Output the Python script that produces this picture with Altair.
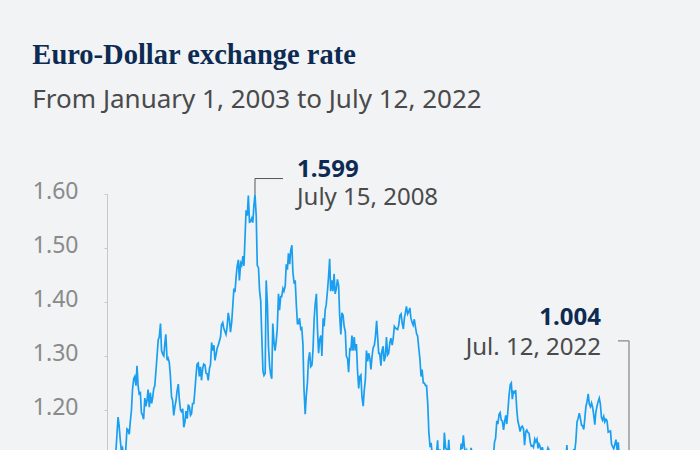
import altair as alt
import pandas as pd

# Semi-monthly EUR/USD readings (1st and 15th of each month), Jan 2003 .. Jul 1 2022
rates = [
    # 2003
    1.049, 1.062, 1.078, 1.075, 1.098, 1.061, 1.081, 1.091, 1.120, 1.150, 1.187, 1.172,
    1.145, 1.125, 1.130, 1.118, 1.095, 1.128, 1.165, 1.163, 1.155, 1.178, 1.200, 1.237,
    # 2004
    1.258, 1.262, 1.245, 1.282, 1.245, 1.230, 1.232, 1.195, 1.190, 1.183, 1.222, 1.207,
    1.218, 1.238, 1.205, 1.232, 1.212, 1.222, 1.240, 1.245, 1.275, 1.300, 1.330, 1.335,
    # 2005
    1.360, 1.310, 1.303, 1.300, 1.323, 1.340, 1.292, 1.296, 1.288, 1.265, 1.224, 1.218,
    1.190, 1.205, 1.218, 1.235, 1.248, 1.220, 1.200, 1.197, 1.202, 1.168, 1.178, 1.198,
    # 2006
    1.184, 1.210, 1.205, 1.190, 1.193, 1.212, 1.212, 1.235, 1.263, 1.285, 1.287, 1.262,
    1.280, 1.255, 1.278, 1.285, 1.283, 1.268, 1.267, 1.255, 1.277, 1.284, 1.325, 1.310,
    # 2007
    1.320, 1.292, 1.304, 1.315, 1.320, 1.327, 1.335, 1.358, 1.362, 1.352, 1.345, 1.340,
    1.355, 1.380, 1.367, 1.344, 1.363, 1.392, 1.425, 1.418, 1.448, 1.467, 1.478, 1.440,
    # 2008
    1.472, 1.468, 1.485, 1.467, 1.520, 1.570, 1.560, 1.597, 1.548, 1.549, 1.555, 1.547,
    1.580, 1.599, 1.559, 1.468, 1.463, 1.422, 1.402, 1.340, 1.272, 1.264, 1.268, 1.440,
    # 2009
    1.395, 1.318, 1.280, 1.265, 1.258, 1.360, 1.325, 1.310, 1.328, 1.350, 1.415, 1.385,
    1.410, 1.410, 1.425, 1.420, 1.430, 1.470, 1.460, 1.490, 1.470, 1.495, 1.505, 1.455,
    # 2010
    1.434, 1.440, 1.392, 1.360, 1.360, 1.370, 1.350, 1.352, 1.322, 1.240, 1.192, 1.225,
    1.250, 1.292, 1.307, 1.280, 1.283, 1.310, 1.368, 1.395, 1.415, 1.352, 1.305, 1.330,
    # 2011
    1.338, 1.300, 1.370, 1.355, 1.385, 1.395, 1.420, 1.445, 1.480, 1.420, 1.440, 1.420,
    1.452, 1.415, 1.425, 1.442, 1.430, 1.375, 1.340, 1.380, 1.375, 1.355, 1.345, 1.300,
    # 2012
    1.295, 1.270, 1.315, 1.310, 1.338, 1.310, 1.335, 1.310, 1.322, 1.275, 1.240, 1.262,
    1.265, 1.225, 1.207, 1.235, 1.258, 1.310, 1.290, 1.305, 1.295, 1.275, 1.300, 1.315,
    # 2013
    1.320, 1.335, 1.365, 1.335, 1.305, 1.305, 1.282, 1.310, 1.318, 1.290, 1.300, 1.335,
    1.302, 1.305, 1.325, 1.333, 1.320, 1.332, 1.355, 1.352, 1.350, 1.349, 1.358, 1.375,
    # 2014
    1.378, 1.362, 1.350, 1.370, 1.380, 1.392, 1.378, 1.382, 1.389, 1.370, 1.362, 1.357,
    1.368, 1.355, 1.341, 1.337, 1.313, 1.295, 1.262, 1.275, 1.250, 1.250, 1.245, 1.245,
    # 2015
    1.210, 1.160, 1.131, 1.139, 1.120, 1.050, 1.076, 1.067, 1.120, 1.144, 1.095, 1.127,
    1.110, 1.095, 1.098, 1.158, 1.130, 1.127, 1.118, 1.145, 1.102, 1.072, 1.058, 1.100,
    # 2016
    1.086, 1.092, 1.088, 1.115, 1.088, 1.110, 1.138, 1.128, 1.153, 1.131, 1.120, 1.125,
    1.110, 1.105, 1.116, 1.130, 1.115, 1.124, 1.123, 1.098, 1.098, 1.072, 1.065, 1.040,
    # 2017
    1.052, 1.062, 1.077, 1.062, 1.055, 1.073, 1.067, 1.061, 1.090, 1.105, 1.122, 1.115,
    1.141, 1.147, 1.180, 1.174, 1.192, 1.195, 1.181, 1.180, 1.163, 1.178, 1.190, 1.174,
    # 2018
    1.201, 1.227, 1.247, 1.250, 1.220, 1.234, 1.232, 1.237, 1.200, 1.180, 1.170, 1.160,
    1.168, 1.170, 1.165, 1.135, 1.160, 1.163, 1.158, 1.157, 1.140, 1.133, 1.134, 1.131,
    # 2019
    1.146, 1.141, 1.146, 1.129, 1.137, 1.133, 1.121, 1.131, 1.120, 1.121, 1.117, 1.121,
    1.130, 1.126, 1.108, 1.110, 1.097, 1.107, 1.093, 1.102, 1.115, 1.104, 1.101, 1.115,
    # 2020
    1.121, 1.114, 1.109, 1.084, 1.103, 1.135, 1.096, 1.091, 1.095, 1.081, 1.112, 1.126,
    1.125, 1.141, 1.178, 1.184, 1.194, 1.185, 1.172, 1.171, 1.164, 1.184, 1.207, 1.215,
    # 2021
    1.230, 1.211, 1.206, 1.213, 1.206, 1.193, 1.173, 1.196, 1.207, 1.215, 1.222, 1.212,
    1.186, 1.181, 1.188, 1.178, 1.183, 1.180, 1.159, 1.160, 1.161, 1.137, 1.132, 1.128,
    # 2022 (Jan 1 .. Jul 1)
    1.137, 1.145, 1.125, 1.140, 1.113, 1.098, 1.106, 1.082, 1.051, 1.041, 1.073, 1.045,
    1.043,
]
dates = list(pd.date_range("2003-01-01", "2022-07-01", freq="SMS").strftime("%Y-%m-%d"))
dates.append("2022-07-12")
rates.append(1.004)

ann_dates = ["2008-07-15", "2022-07-12"]
ann_values = [1.599, 1.004]
ann_labels = ["July 15, 2008", "Jul. 12, 2022"]

y_ticks = [1.0, 1.1, 1.2, 1.3, 1.4, 1.5, 1.6]

df = pd.DataFrame({"date": dates, "rate": rates})
ann = pd.DataFrame({"date": ann_dates, "value": ann_values, "label": ann_labels})
peak = ann.iloc[[0]]
last = ann.iloc[[1]]

NAVY = "#0d2b52"
GREY_TXT = "#4a4a4a"
FONT = "Noto Sans"
FS = 24

x_scale = alt.Scale(domain=[alt.DateTime(year=2003, month=1, date=1),
                            alt.DateTime(year=2022, month=7, date=12)])
y_scale = alt.Scale(domain=[1.0, 1.6])

X = alt.X("date:T", scale=x_scale,
          axis=alt.Axis(title=None, format="%Y", grid=False, labelFont=FONT,
                        labelFontSize=FS, labelColor="#8a8a8a", domainColor="#c8c8c8",
                        tickColor="#c8c8c8"))
Y = alt.Y("rate:Q", scale=y_scale,
          axis=alt.Axis(title=None, values=y_ticks, format=".2f", grid=False,
                        labelFont=FONT, labelFontSize=23, labelColor="#8a8a8a",
                        labelPadding=26, tickSize=3, labelOffset=-3,
                        domainColor="#c8c8c8", tickColor="#c8c8c8"))

line = alt.Chart(df).mark_line(color="#1a9ff0", strokeWidth=1.7).encode(x=X, y=Y)

xa = alt.X("date:T", scale=x_scale)
ya = alt.Y("value:Q", scale=y_scale)

peak_v = alt.Chart(peak).mark_rule(color="#555555", strokeWidth=1, y2Offset=-16).encode(
    x=xa, y=ya, y2="value:Q")
peak_h = alt.Chart(peak).mark_rule(color="#555555", strokeWidth=1, yOffset=-16, x2Offset=28).encode(
    x=xa, x2="date:T", y=ya)
peak_val = alt.Chart(peak).mark_text(align="left", baseline="alphabetic", dx=42, dy=-18,
                                     font=FONT, fontSize=FS, fontWeight="bold", color=NAVY).encode(
    x=xa, y=ya, text=alt.Text("value:Q", format=".3f"))
peak_lab = alt.Chart(peak).mark_text(align="left", baseline="alphabetic", dx=42, dy=10,
                                     font=FONT, fontSize=FS, color=GREY_TXT).encode(
    x=xa, y=ya, text="label:N")

last_v = alt.Chart(last).mark_rule(color="#9a9a9a", strokeWidth=1.5, y2Offset=-175).encode(
    x=xa, y=ya, y2="value:Q")
last_h = alt.Chart(last).mark_rule(color="#9a9a9a", strokeWidth=1.5, yOffset=-175, xOffset=-11).encode(
    x=xa, x2="date:T", y=ya)
last_val = alt.Chart(last).mark_text(align="right", baseline="alphabetic", dx=-28, dy=-191,
                                     font=FONT, fontSize=FS, fontWeight="bold", color=NAVY).encode(
    x=xa, y=ya, text=alt.Text("value:Q", format=".3f"))
last_lab = alt.Chart(last).mark_text(align="right", baseline="alphabetic", dx=-28, dy=-161,
                                     font=FONT, fontSize=FS, color=GREY_TXT).encode(
    x=xa, y=ya, text="label:N")

chart = alt.layer(line, peak_v, peak_h, peak_val, peak_lab,
                  last_v, last_h, last_val, last_lab).properties(
    width=522, height=324,
    autosize=alt.AutoSizeParams(type="none"),
    padding={"left": 107, "top": 194, "right": 71, "bottom": 60},
    background="#f1f3f5",
    title=alt.TitleParams(
        text="Euro-Dollar exchange rate",
        subtitle="From January 1, 2003 to July 12, 2022",
        anchor="start", frame="bounds",
        font="Liberation Serif", fontSize=28.5, fontWeight="bold", color=NAVY,
        subtitleFont=FONT, subtitleFontSize=26, subtitleColor=GREY_TXT,
        subtitlePadding=17, offset=45,
    ),
).configure_view(stroke=None)

chart.save("out.html", embed_options={"renderer": "svg", "actions": False})
